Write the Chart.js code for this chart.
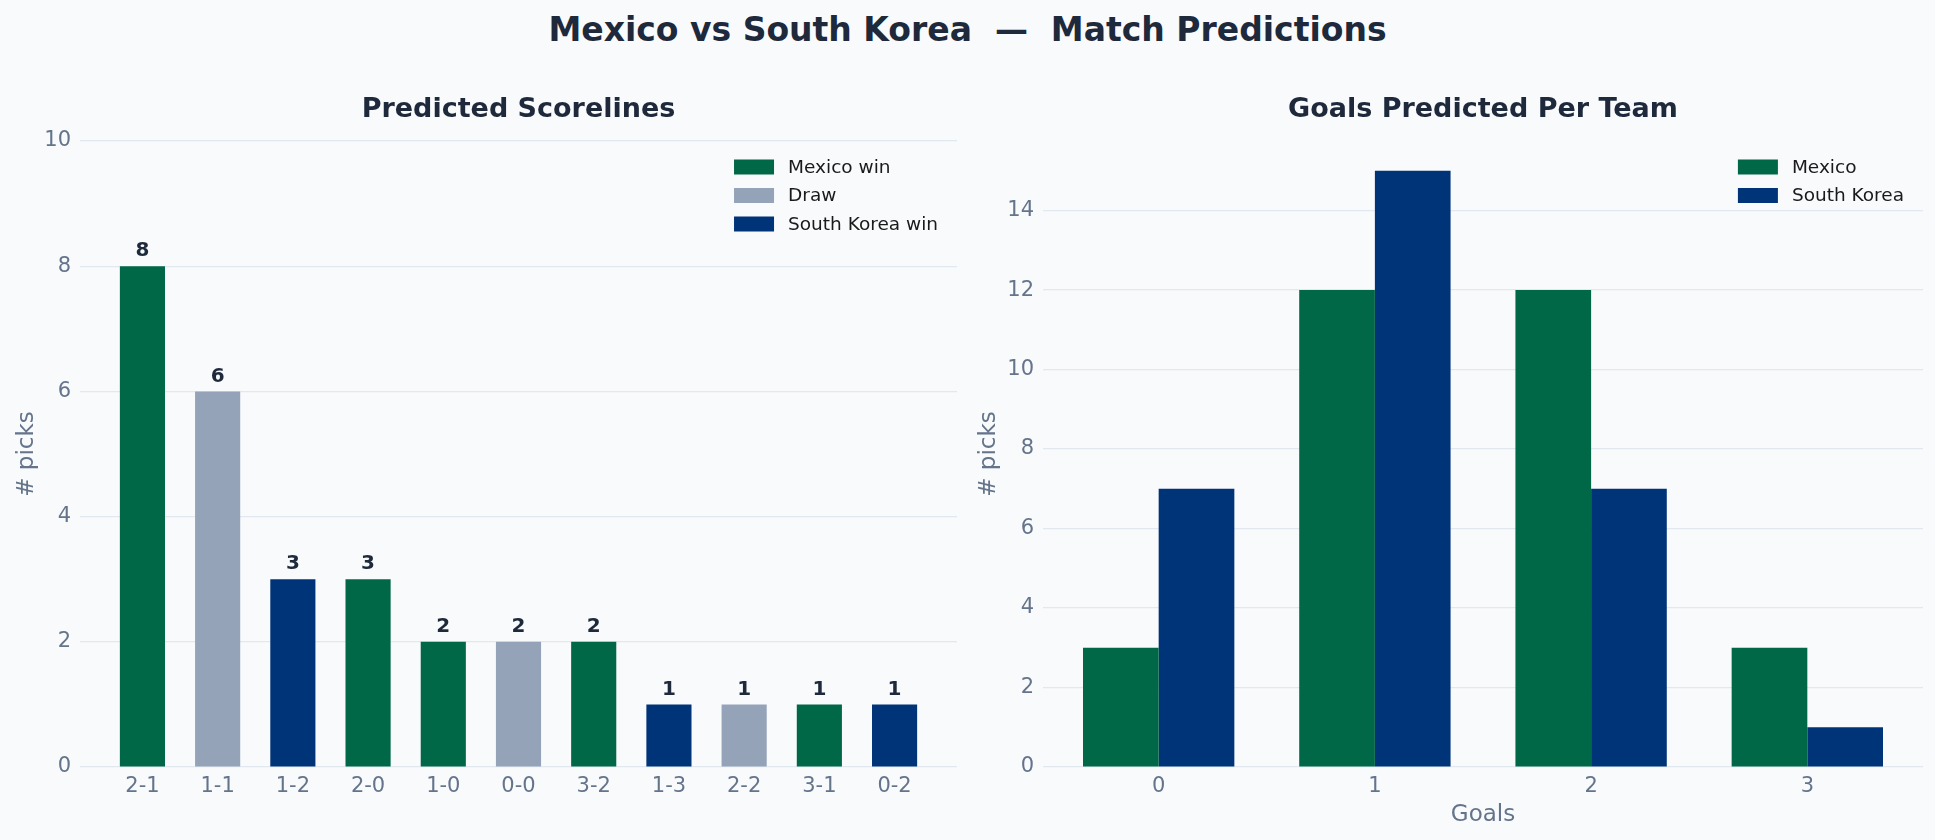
<!DOCTYPE html>
<html>
<head>
<meta charset="utf-8">
<script src="https://cdn.jsdelivr.net/npm/chart.js@4.4.1/dist/chart.umd.min.js"></script>
<style>
  html, body { margin:0; padding:0; background:#f8fafc; }
  #wrap { position:relative; width:1935px; height:840px; background:#f8fafc; font-family:"DejaVu Sans", sans-serif; }
  #title { position:absolute; left:0; top:10px; width:1935px; text-align:center; font-weight:bold; font-size:33px; color:#1e293b; line-height:40px; }
  #leftBox { position:absolute; left:0; top:0; width:965px; height:840px; }
  #rightBox { position:absolute; left:965px; top:0; width:970px; height:840px; }
</style>
</head>
<body>
<div id="wrap">
  <div id="title">Mexico vs South Korea&nbsp; —&nbsp; Match Predictions</div>
  <div id="leftBox"><canvas id="scoreChart"></canvas></div>
  <div id="rightBox"><canvas id="goalsChart"></canvas></div>
</div>
<script>
/* ---------- data ---------- */
const scorelines = ["2-1","1-1","1-2","2-0","1-0","0-0","3-2","1-3","2-2","3-1","0-2"];
const scorePicks = [8, 6, 3, 3, 2, 2, 2, 1, 1, 1, 1];
const scoreOutcome = ["win","draw","loss","win","win","draw","win","loss","draw","win","loss"];

const goalLabels = ["0","1","2","3"];
const mexicoGoals = [3, 12, 12, 3];
const koreaGoals = [7, 15, 7, 1];

const leftTicks = [0, 2, 4, 6, 8, 10];
const rightTicks = [0, 2, 4, 6, 8, 10, 12, 14];

/* ---------- colours ---------- */
const GREEN = "#006847", GREY = "#94a3b8", NAVY = "#003478";
const TICK = "#64748b", GRID = "#e2e8f0", DARK = "#1e293b";
const FONT = "'DejaVu Sans', sans-serif";

/* ---------- plugins ---------- */
// value labels above bars
const valueLabels = {
  id: "valueLabels",
  afterDatasetsDraw(chart, args, opts){
    if(!opts.show) return;
    const ctx = chart.ctx;
    ctx.save();
    ctx.font = "bold 20px " + FONT;
    ctx.fillStyle = DARK;
    ctx.textAlign = "center";
    ctx.textBaseline = "bottom";
    chart.data.datasets.forEach((ds, i) => {
      const meta = chart.getDatasetMeta(i);
      meta.data.forEach((el, j) => {
        const v = ds.data[j].y;
        ctx.fillText(String(v), el.x, el.y - 5);
      });
    });
    ctx.restore();
  }
};

// subplot title centred over the plot area
const subTitle = {
  id: "subTitle",
  afterDraw(chart, args, opts){
    const ctx = chart.ctx, area = chart.chartArea;
    ctx.save();
    ctx.font = "bold 27px " + FONT;
    ctx.fillStyle = DARK;
    ctx.textAlign = "center";
    ctx.textBaseline = "middle";
    ctx.fillText(opts.text, (area.left + area.right) / 2, 110);
    ctx.restore();
  }
};

// matplotlib-like legend in upper right of plot area
const boxLegend = {
  id: "boxLegend",
  afterDraw(chart){
    const ctx = chart.ctx, area = chart.chartArea;
    const items = chart.data.datasets;
    ctx.save();
    ctx.font = "18.5px " + FONT;
    const maxW = Math.max(...items.map(d => ctx.measureText(d.label).width));
    const x0 = area.right - 19 - maxW - 14 - 40;
    items.forEach((d, i) => {
      const cy = area.top + 26 + i * 28.5;
      ctx.fillStyle = d.backgroundColor;
      ctx.fillRect(x0, cy - 7.5, 40, 15);
      ctx.fillStyle = "#1a1a1a";
      ctx.textBaseline = "middle";
      ctx.textAlign = "left";
      ctx.fillText(d.label, x0 + 54, cy + 1);
    });
    ctx.restore();
  }
};

function yAxis(max, ticks, width){
  return {
    min: 0, max: max,
    afterBuildTicks: s => { s.ticks = ticks.map(v => ({ value: v })); },
    afterFit: s => { s.width = width; },
    grid: { color: GRID, lineWidth: 1.2, drawTicks: false },
    border: { display: false },
    ticks: { color: TICK, font: { family: FONT, size: 21 }, padding: 9 },
    title: { display: true, text: "# picks", color: TICK, font: { family: FONT, size: 23 }, padding: 0 }
  };
}

function xAxis(labels, lo, hi, height, title){
  const ax = {
    type: "linear", min: lo, max: hi, offset: false,
    afterBuildTicks: s => { s.ticks = labels.map((l, i) => ({ value: i })); },
    afterFit: s => { s.height = height; },
    grid: { display: false, drawTicks: false }, border: { display: false },
    ticks: { color: TICK, font: { family: FONT, size: 21 }, padding: 7, callback: v => labels[v] }
  };
  if(title) ax.title = { display: true, text: title, color: TICK, font: { family: FONT, size: 23 }, padding: { top: 1, bottom: 0 } };
  return ax;
}

/* ---------- left: predicted scorelines ---------- */
function pick(kind){
  return scorePicks.map((v, i) => scoreOutcome[i] === kind ? { x: i, y: v } : null).filter(Boolean);
}

new Chart(document.getElementById("scoreChart"), {
  type: "bar",
  data: {
    datasets: [
      { label: "Mexico win", data: pick("win"), backgroundColor: GREEN, grouped: false },
      { label: "Draw", data: pick("draw"), backgroundColor: GREY, grouped: false },
      { label: "South Korea win", data: pick("loss"), backgroundColor: NAVY, grouped: false }
    ]
  },
  options: {
    responsive: true, maintainAspectRatio: false, animation: false,
    layout: { padding: { left: 13, right: 8, top: 141, bottom: 0 } },
    datasets: { bar: { barPercentage: 0.6, categoryPercentage: 1 } },
    plugins: {
      legend: { display: false }, tooltip: { enabled: false }, title: { display: false },
      subTitle: { text: "Predicted Scorelines" },
      valueLabels: { show: true }
    },
    scales: {
      x: xAxis(scorelines, -0.83, scorelines.length - 1 + 0.83, 73),
      y: yAxis(10, leftTicks, 67)
    }
  },
  plugins: [valueLabels, subTitle, boxLegend]
});

/* ---------- right: goals per team ---------- */
new Chart(document.getElementById("goalsChart"), {
  type: "bar",
  data: {
    datasets: [
      { label: "Mexico", data: mexicoGoals.map((v, i) => ({ x: i, y: v })), backgroundColor: GREEN },
      { label: "South Korea", data: koreaGoals.map((v, i) => ({ x: i, y: v })), backgroundColor: NAVY }
    ]
  },
  options: {
    responsive: true, maintainAspectRatio: false, animation: false,
    layout: { padding: { left: 10, right: 12, top: 141, bottom: 11 } },
    datasets: { bar: { barPercentage: 1, categoryPercentage: 0.7 } },
    plugins: {
      legend: { display: false }, tooltip: { enabled: false }, title: { display: false },
      subTitle: { text: "Goals Predicted Per Team" },
      valueLabels: { show: false }
    },
    scales: {
      x: xAxis(goalLabels, -0.535, goalLabels.length - 1 + 0.535, 62, "Goals"),
      y: yAxis(15.75, rightTicks, 68)
    }
  },
  plugins: [valueLabels, subTitle, boxLegend]
});
</script>
</body>
</html>
